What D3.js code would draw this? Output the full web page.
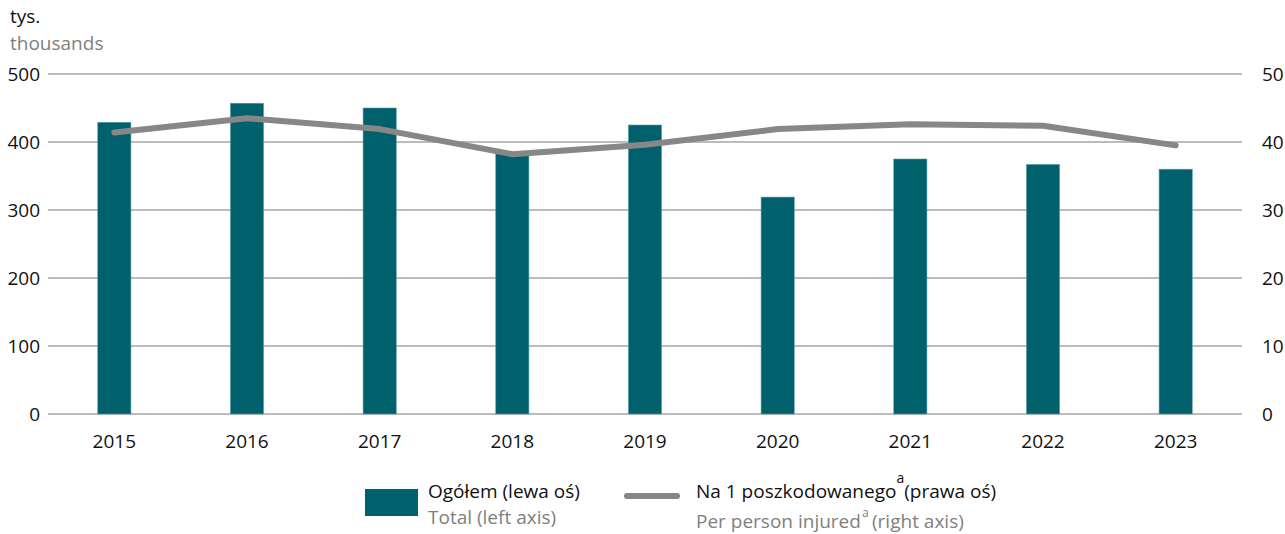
<!DOCTYPE html>
<html><head><meta charset="utf-8">
<script src="https://cdn.jsdelivr.net/npm/d3@7"></script>
<style>body{margin:0;background:#fff}svg{display:block}text{font-family:"Open Sans",sans-serif}</style>
</head><body><svg id="c" width="1285" height="534"></svg>
<script>
const years = ["2015","2016","2017","2018","2019","2020","2021","2022","2023"];
const totals = [429, 457, 450, 383, 425, 319, 375, 367, 360];
const perPerson = [41.4, 43.5, 41.9, 38.2, 39.6, 41.9, 42.6, 42.4, 39.5];
const leftTicks = [0, 100, 200, 300, 400, 500];
const rightTicks = [0, 10, 20, 30, 40, 50];

const svg = d3.select("#c");
const L = 48, R = 1242, T = 74, B = 414;
const FS = 19;
const barColor = "#00616c", lineColor = "#878787", gridColor = "#7a7a7a";

const x = d3.scaleBand().domain(years).range([L, R]).paddingInner(0.75).paddingOuter(0.375);
const yL = d3.scaleLinear().domain([0, 500]).range([B, T]);
const yR = d3.scaleLinear().domain([0, 50]).range([B, T]);

// gridlines
svg.append("g").selectAll("line").data(leftTicks).join("line")
  .attr("x1", L).attr("x2", R).attr("y1", d => yL(d)).attr("y2", d => yL(d))
  .attr("stroke", gridColor).attr("stroke-width", 1.2);

// left axis
const axL = svg.append("g").attr("transform", `translate(${L},0)`)
  .call(d3.axisLeft(yL).tickValues(leftTicks).tickSize(0).tickPadding(8));
axL.select(".domain").remove();
axL.selectAll("text").attr("font-size", FS).attr("fill", "#111").attr("font-family", '"Open Sans",sans-serif');

// right axis
const axR = svg.append("g").attr("transform", `translate(${R},0)`)
  .call(d3.axisRight(yR).tickValues(rightTicks).tickSize(0).tickPadding(20));
axR.select(".domain").remove();
axR.selectAll("text").attr("font-size", FS).attr("fill", "#111").attr("font-family", '"Open Sans",sans-serif');

// bottom axis
const axB = svg.append("g").attr("transform", `translate(0,${B})`)
  .call(d3.axisBottom(x).tickSize(0));
axB.select(".domain").remove();
axB.selectAll("text").attr("font-size", FS).attr("fill", "#111").attr("font-family", '"Open Sans",sans-serif')
  .attr("dy", null).attr("y", 34);

// bars
svg.append("g").selectAll("rect").data(totals).join("rect")
  .attr("x", (d, i) => x(years[i])).attr("width", x.bandwidth())
  .attr("y", d => yL(d)).attr("height", d => yL(0) - yL(d))
  .attr("fill", barColor).attr("stroke", "#5a9ea5").attr("stroke-width", 0.6);

// line
const line = d3.line().x((d, i) => x(years[i]) + x.bandwidth() / 2).y(d => yR(d));
svg.append("path").datum(perPerson).attr("d", line)
  .attr("fill", "none").attr("stroke", lineColor).attr("stroke-width", 6)
  .attr("stroke-linecap", "round").attr("stroke-linejoin", "round");

// unit labels
svg.append("text").attr("x", 10).attr("y", 23).attr("font-size", FS).attr("fill", "#111").text("tys.");
svg.append("text").attr("x", 10).attr("y", 50).attr("font-size", FS).attr("fill", "#808080").text("thousands");

// legend
svg.append("rect").attr("x", 365).attr("y", 489).attr("width", 53).attr("height", 27).attr("fill", barColor);
svg.append("text").attr("x", 428).attr("y", 498).attr("font-size", FS).attr("fill", "#111").text("Ogółem (lewa oś)");
svg.append("text").attr("x", 428).attr("y", 524).attr("font-size", FS).attr("fill", "#808080").text("Total (left axis)");

svg.append("line").attr("x1", 627).attr("x2", 677).attr("y1", 496).attr("y2", 496)
  .attr("stroke", lineColor).attr("stroke-width", 6).attr("stroke-linecap", "round");
const t1 = svg.append("text").attr("x", 696).attr("y", 498).attr("font-size", FS).attr("fill", "#111");
t1.append("tspan").text("Na 1 poszkodowanego");
t1.append("tspan").attr("dy", -15).attr("font-size", 14).text("a");
t1.append("tspan").attr("dy", 15).text("(prawa oś)");
svg.append("text").attr("x", 696).attr("y", 528).attr("font-size", FS).attr("fill", "#808080").text("Per person injured");
svg.append("text").attr("x", 862).attr("y", 517).attr("font-size", 12).attr("fill", "#808080").text("a");
svg.append("text").attr("x", 872).attr("y", 528).attr("font-size", FS).attr("fill", "#808080").text("(right axis)");
</script></body></html>
